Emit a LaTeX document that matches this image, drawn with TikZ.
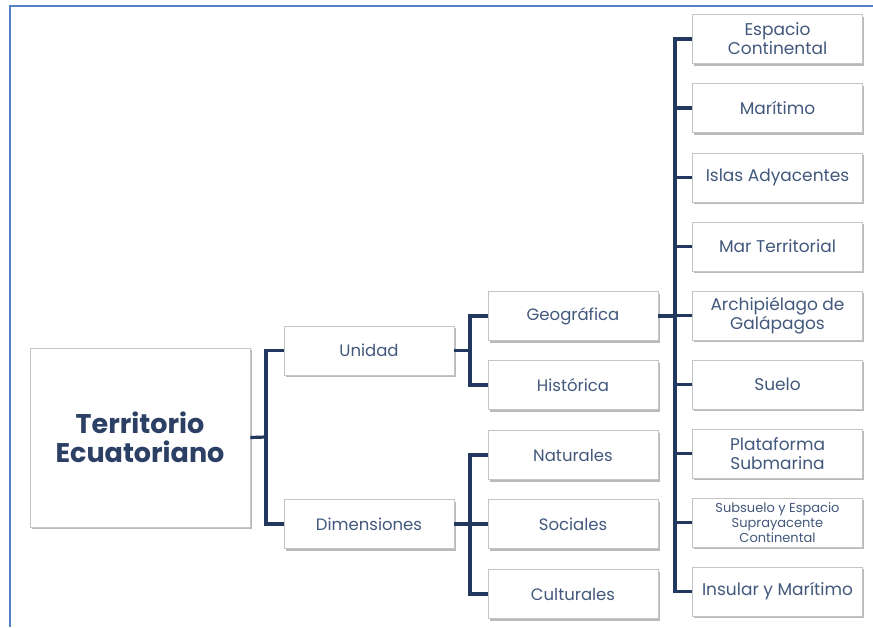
\documentclass[tikz,border=0pt]{standalone}
\usepackage{fontspec}
\setmainfont{Poppins}
\usetikzlibrary{shadows}
\definecolor{frameblue}{HTML}{4F81C4}
\definecolor{linknavy}{HTML}{22385E}
\definecolor{txtblue}{HTML}{42587C}
\definecolor{rootblue}{HTML}{2C4066}
\definecolor{boxgray}{HTML}{C4C4C4}
\begin{document}
\begin{tikzpicture}[x=1pt,y=-1pt,
  box/.style={draw=boxgray,line width=0.8pt,fill=white,rectangle,
    minimum width=170pt,minimum height=49pt,align=center,inner sep=1pt,
    text=txtblue,font=\fontsize{16.5}{19}\selectfont,
    drop shadow={shadow xshift=1.5pt,shadow yshift=-2pt,fill=black!45,opacity=0.6}},
  rbox/.style={box,font=\fontsize{17}{19}\selectfont},
  link/.style={draw=linknavy,line width=3.2pt}]
\useasboundingbox (0,0) rectangle (873,627);
% frame
\draw[frameblue,line width=2.5pt] (10,627) -- (10,6) -- (873,6);
% root
\node[box,minimum width=220pt,minimum height=179pt,text=rootblue,
  font=\fontsize{27}{29}\selectfont\bfseries] (root) at (140,437.5) {Territorio\\Ecuatoriano};
% level 1
\node[box] (uni) at (369,350.5) {Unidad};
\node[box] (dim) at (369,524) {Dimensiones};
% level 2
\node[box] (geo) at (573,316) {Geográfica};
\node[box] (his) at (573,385) {Histórica};
\node[box] (nat) at (573,455) {Naturales};
\node[box] (soc) at (573,524) {Sociales};
\node[box] (cul) at (573,594) {Culturales};
% level 3
\node[rbox] (r1) at (777.5,39) {Espacio\\Continental};
\node[rbox] (r2) at (777.5,108) {Marítimo};
\node[rbox] (r3) at (777.5,177.5) {Islas Adyacentes};
\node[rbox] (r4) at (777.5,246.5) {Mar Territorial};
\node[rbox] (r5) at (777.5,315.5) {Archipiélago de\\Galápagos};
\node[rbox] (r6) at (777.5,384.5) {Suelo};
\node[rbox] (r7) at (777.5,453.5) {Plataforma\\Submarina};
\node[rbox,font=\fontsize{13}{15}\selectfont] (r8) at (777.5,522.5) {Subsuelo y Espacio\\Suprayacente\\Continental};
\node[rbox] (r9) at (777.5,591.5) {Insular y Marítimo};
% junctions
\coordinate (j0) at (266,437);
\coordinate (j1) at (470,350.5);
\coordinate (j2) at (470,524);
\coordinate (j3) at (675,316);
% connectors
\draw[link] (root.east) -- (j0);
\draw[link] (uni.west) -- (uni.west -| j0) -- (dim.west -| j0) -- (dim.west);
\draw[link] (uni.east) -- (j1);
\draw[link] (geo.west) -- (geo.west -| j1) -- (his.west -| j1) -- (his.west);
\draw[link] (dim.east) -- (j2);
\draw[link] (nat.west) -- (nat.west -| j2) -- (cul.west -| j2) -- (cul.west);
\draw[link] (soc.west) -- (soc.west -| j2);
\draw[link] (geo.east) -- (j3);
\draw[link] (r1.west) -- (r1.west -| j3) -- (r9.west -| j3) -- (r9.west);
\foreach \n in {r2,r3,r4,r5,r6,r7,r8} {\draw[link] (\n.west) -- (\n.west -| j3);}
\end{tikzpicture}
\end{document}
